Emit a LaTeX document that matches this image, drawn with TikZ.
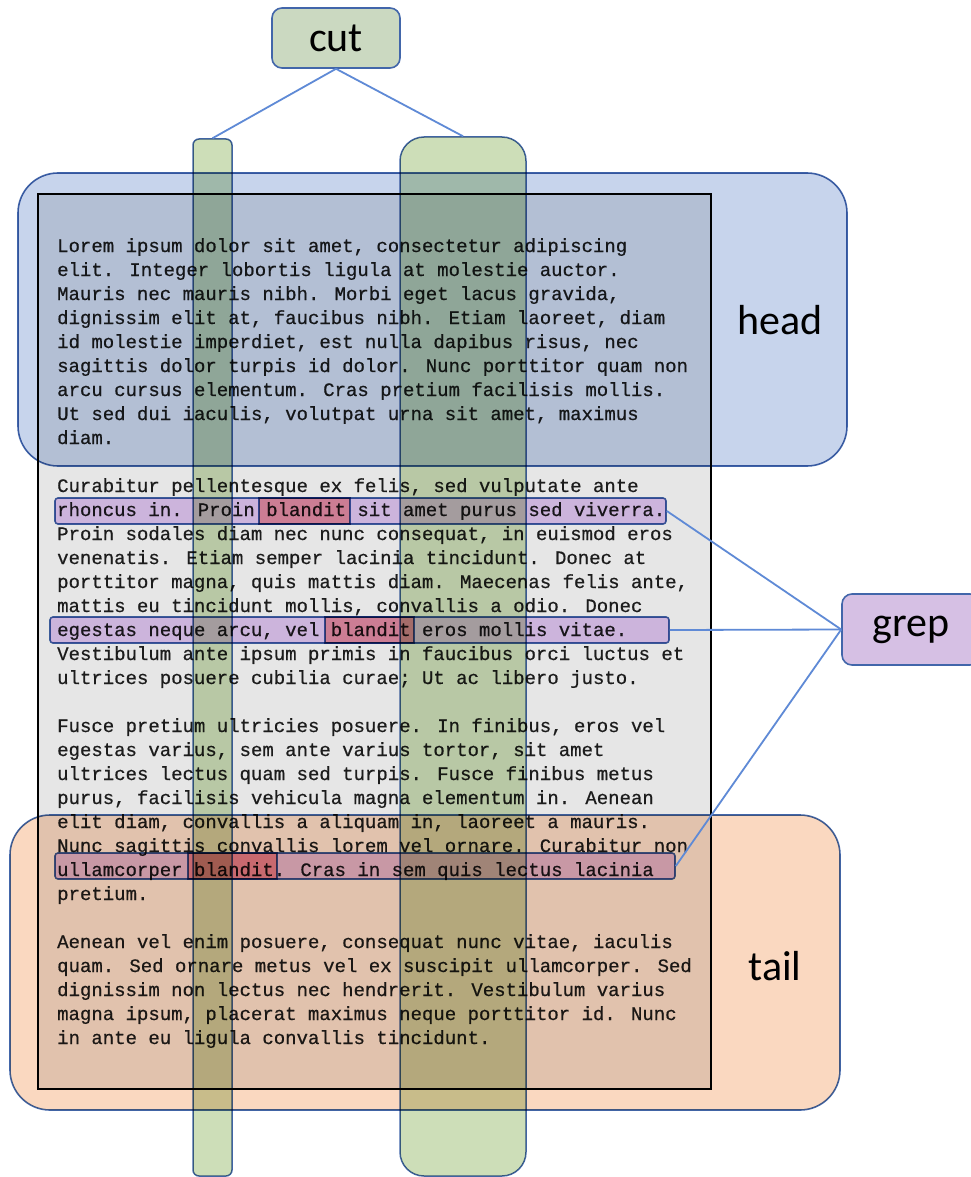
\documentclass[tikz,border=0pt]{standalone}
\usepackage{fontspec}
\setmainfont{Carlito}
\newfontfamily\monofont[FakeBold=0.6]{Liberation Mono}
\definecolor{docgray}{RGB}{230,230,230}
\definecolor{textgray}{RGB}{28,28,28}
\definecolor{headfill}{RGB}{199,212,236}
\definecolor{tailfill}{RGB}{250,216,192}
\definecolor{colfill}{RGB}{205,222,184}
\definecolor{cutfill}{RGB}{203,217,193}
\definecolor{grepfill}{RGB}{214,192,228}
\definecolor{hlfill}{RGB}{227,200,244}
\definecolor{redfill}{RGB}{255,178,172}
\definecolor{bordblue}{RGB}{66,102,170}
\definecolor{connblue}{RGB}{95,138,214}
\begin{document}
\begin{tikzpicture}[x=1pt,y=-1pt,
  txt/.style={anchor=base west, inner sep=0pt, text=textgray,
    font=\monofont\fontsize{19}{24}\selectfont},
  docbox/.style={draw=black, line width=2.4pt, fill=docgray, inner sep=0pt},
  region/.style={draw=bordblue, line width=1.6pt, rounded corners=40pt, inner sep=0pt},
  column/.style={draw=bordblue, line width=1.5pt, fill=colfill, inner sep=0pt},
  hlbox/.style={draw=bordblue, line width=1.6pt, fill=hlfill, rounded corners=3pt, inner sep=0pt, minimum height=26pt},
  redbox/.style={draw=bordblue, line width=1.4pt, fill=redfill, inner sep=0pt, minimum height=26pt},
  cmdbox/.style={draw=bordblue, line width=1.6pt, rounded corners=10pt, inner sep=0pt, font=\fontsize{42}{48}\selectfont, text=black},
  lbl/.style={font=\fontsize{42}{48}\selectfont, text=black, inner sep=0pt},
  conn/.style={draw=connblue, line width=1.8pt}
]
\clip (0,0) rectangle (971,1177);
\fill[white] (0,0) rectangle (971,1177);

% document
\node[docbox, minimum width=673pt, minimum height=895pt] (doc) at (374.5,641.5) {};

% text lines
\foreach \ltext [count=\i from 0] in {
{Lorem ipsum dolor sit amet, consectetur adipiscing},
{elit. Integer lobortis ligula at molestie auctor.},
{Mauris nec mauris nibh. Morbi eget lacus gravida,},
{dignissim elit at, faucibus nibh. Etiam laoreet, diam},
{id molestie imperdiet, est nulla dapibus risus, nec},
{sagittis dolor turpis id dolor. Nunc porttitor quam non},
{arcu cursus elementum. Cras pretium facilisis mollis.},
{Ut sed dui iaculis, volutpat urna sit amet, maximus},
{diam.},
{},
{Curabitur pellentesque ex felis, sed vulputate ante},
{rhoncus in. Proin blandit sit amet purus sed viverra.},
{Proin sodales diam nec nunc consequat, in euismod eros},
{venenatis. Etiam semper lacinia tincidunt. Donec at},
{porttitor magna, quis mattis diam. Maecenas felis ante,},
{mattis eu tincidunt mollis, convallis a odio. Donec},
{egestas neque arcu, vel blandit eros mollis vitae.},
{Vestibulum ante ipsum primis in faucibus orci luctus et},
{ultrices posuere cubilia curae; Ut ac libero justo.},
{},
{Fusce pretium ultricies posuere. In finibus, eros vel},
{egestas varius, sem ante varius tortor, sit amet},
{ultrices lectus quam sed turpis. Fusce finibus metus},
{purus, facilisis vehicula magna elementum in. Aenean},
{elit diam, convallis a aliquam in, laoreet a mauris.},
{Nunc sagittis convallis lorem vel ornare. Curabitur non},
{ullamcorper blandit. Cras in sem quis lectus lacinia},
{pretium.},
{},
{Aenean vel enim posuere, consequat nunc vitae, iaculis},
{quam. Sed ornare metus vel ex suscipit ullamcorper. Sed},
{dignissim non lectus nec hendrerit. Vestibulum varius},
{magna ipsum, placerat maximus neque porttitor id. Nunc},
{in ante eu ligula convallis tincidunt.}
}{
  \node[txt] (ln\i) at (57,{252+24*\i}) {\ltext};
}

\begin{scope}[blend mode=multiply]
% grep highlights
\node[hlbox, minimum width=611pt] (h1) at (360.5,511) {};
\node[hlbox, minimum width=619pt] (h2) at (359.5,630) {};
\node[hlbox, minimum width=620pt] (h3) at (365,866) {};
\node[redbox, minimum width=91pt] (r1) at (304.5,511) {};
\node[redbox, minimum width=89pt] (r2) at (369.5,630) {};
\node[redbox, minimum width=89pt] (r3) at (232.5,866) {};

% head and tail regions
\node[region, fill=headfill, minimum width=829pt, minimum height=293pt] (head) at (432.5,319.5) {};
\node[region, fill=tailfill, minimum width=830pt, minimum height=295pt] (tail) at (425,962.5) {};

% cut columns
\node[column, rounded corners=6pt, minimum width=39pt, minimum height=1037pt] (col1) at (212.5,657.5) {};
\node[column, rounded corners=24pt, minimum width=126pt, minimum height=1039pt] (col2) at (463,656.5) {};
\end{scope}

% labels
\node[lbl] (headlbl) at (780,320) {head};
\node[lbl] (taillbl) at (775,966) {tail};

% command boxes
\node[cmdbox, fill=cutfill, minimum width=128pt, minimum height=60pt] (cut) at (336,38) {cut};
\node[cmdbox, fill=grepfill, minimum width=138pt, minimum height=71pt] (grep) at (911,629.5) {grep};

% connectors
\draw[conn] (cut.south) -- (col1.north);
\draw[conn] (cut.south) -- (col2.north);
\draw[conn] (grep.west) -- (h1.east);
\draw[conn] (grep.west) -- (h2.east);
\draw[conn] (grep.west) -- (h3.east);
\end{tikzpicture}
\end{document}
